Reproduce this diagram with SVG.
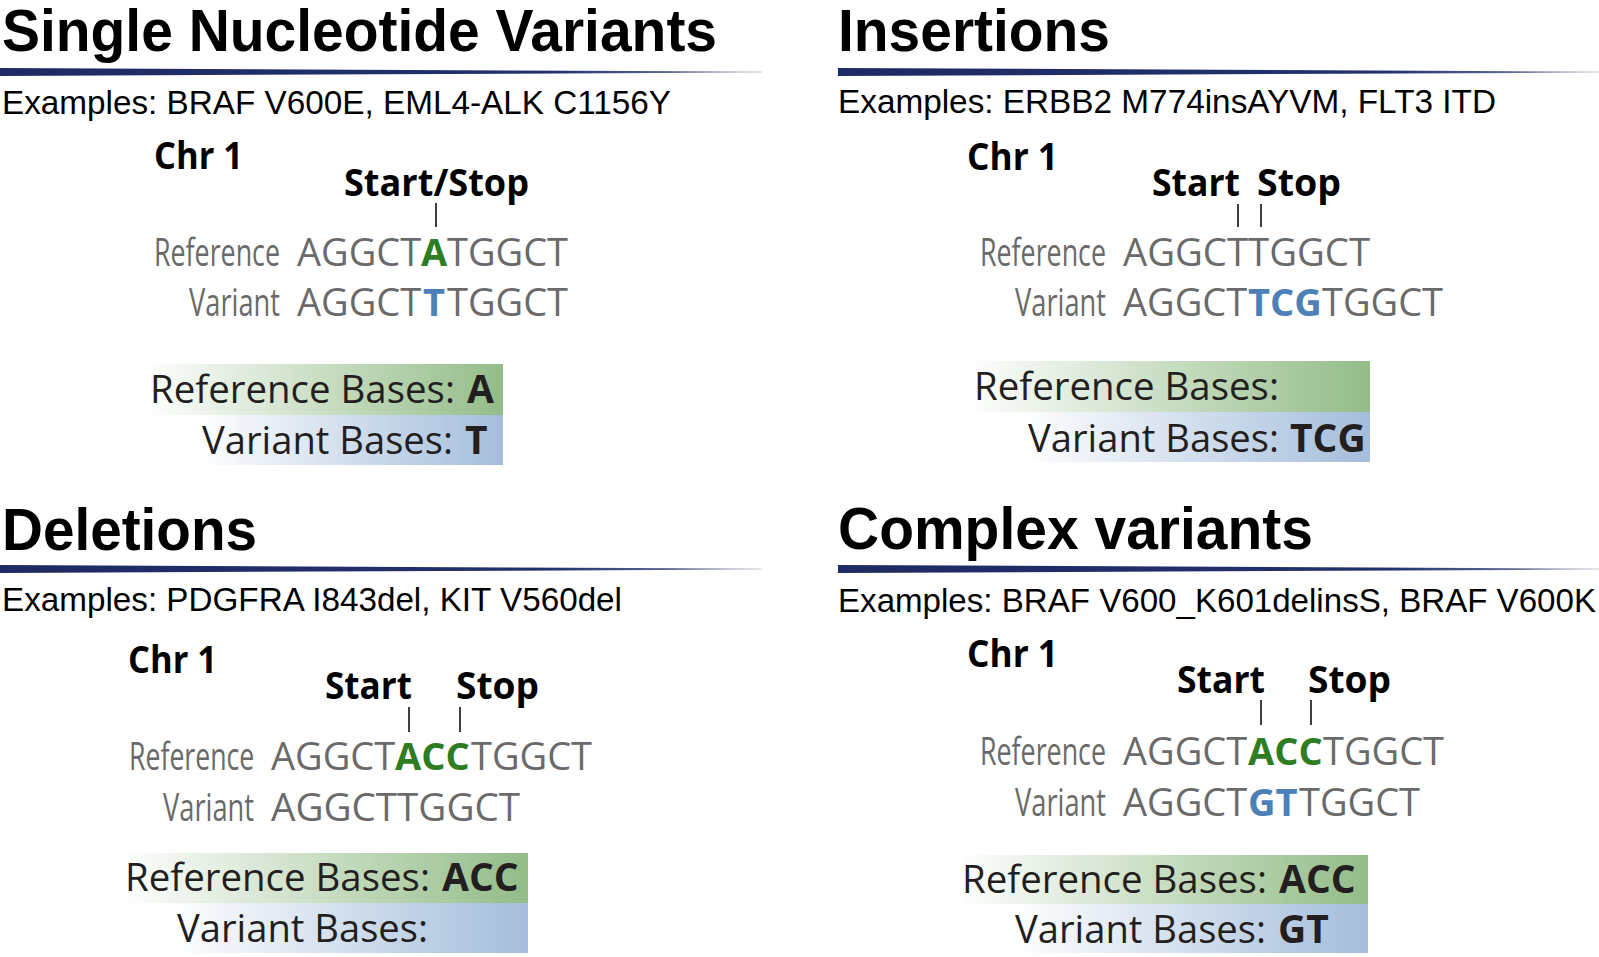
<svg xmlns="http://www.w3.org/2000/svg" width="1599" height="957" viewBox="0 0 1599 957">
<style>
.title{font-family:"Liberation Sans",Arial,sans-serif;font-weight:700;font-size:60px;fill:#000}
.ex{font-family:"Liberation Sans",Arial,sans-serif;font-size:33px;fill:#000}
.chr{font-family:"Open Sans","Noto Sans",sans-serif;font-weight:700;font-size:38px;fill:#000}
.lab{font-family:"Open Sans","Noto Sans",sans-serif;font-size:38px;fill:#6a6a6a}
.seq{font-family:"Open Sans","Noto Sans",sans-serif;font-size:38px;fill:#6a6a6a}
.base{font-family:"Open Sans","Noto Sans",sans-serif;font-size:39px;fill:#231f20}
.b{font-weight:700}
.g{fill:#2e7d23}
.bl{fill:#4b81b7}
.tick{stroke:#000;stroke-width:1.5}
.gbox{fill:url(#gGreen)}
.bbox{fill:url(#gBlue)}
</style>
<defs>
<linearGradient id="gLine" x1="0" y1="0" x2="1" y2="0">
<stop offset="0" stop-color="#1e2a64"/>
<stop offset="0.72" stop-color="#22306c"/>
<stop offset="0.88" stop-color="#5d6892"/>
<stop offset="1" stop-color="#cfd0d8"/>
</linearGradient>
<linearGradient id="gGreen" x1="0" y1="0" x2="1" y2="0">
<stop offset="0" stop-color="#ffffff"/>
<stop offset="1" stop-color="#93bc88"/>
</linearGradient>
<linearGradient id="gBlue" x1="0" y1="0" x2="1" y2="0">
<stop offset="0" stop-color="#ffffff"/>
<stop offset="1" stop-color="#a4bddb"/>
</linearGradient>
</defs>
<rect width="1599" height="957" fill="#fff"/>

<g id="snv">
<text class="title" x="2" y="51" textLength="715" lengthAdjust="spacingAndGlyphs">Single Nucleotide Variants</text>
<polygon points="0,68 762,71.6 762,72.6 0,76" fill="url(#gLine)"/>
<text class="ex" x="2" y="114" textLength="669" lengthAdjust="spacingAndGlyphs">Examples: BRAF V600E, EML4-ALK C1156Y</text>
<text class="chr" x="154" y="169" textLength="89" lengthAdjust="spacingAndGlyphs">Chr 1</text>
<text class="chr" x="344" y="196" textLength="185" lengthAdjust="spacingAndGlyphs">Start/Stop</text>
<line class="tick" x1="436" y1="203" x2="436" y2="227"/>
<text class="lab" transform="translate(154,266) scale(0.7,1)" textLength="180" lengthAdjust="spacingAndGlyphs">Reference</text>
<text class="seq" x="297" y="266">AGGCT</text>
<text class="seq b g" x="421" y="266">A</text>
<text class="seq" x="447" y="266">TGGCT</text>
<text class="lab" transform="translate(189,316) scale(0.7,1)" textLength="130" lengthAdjust="spacingAndGlyphs">Variant</text>
<text class="seq" x="297" y="316">AGGCT</text>
<text class="seq b bl" x="423" y="316">T</text>
<text class="seq" x="447" y="316">TGGCT</text>
<rect class="gbox" x="143" y="364" width="360" height="51"/>
<rect class="bbox" x="194" y="415" width="309" height="50"/>
<text class="base" x="150" y="403" textLength="305" lengthAdjust="spacingAndGlyphs">Reference Bases:</text>
<text class="base b" x="467" y="403">A</text>
<text class="base" x="202" y="454" textLength="251" lengthAdjust="spacingAndGlyphs">Variant Bases:</text>
<text class="base b" x="465" y="454">T</text>
</g>

<g id="insertions">
<text class="title" x="838" y="51" textLength="272" lengthAdjust="spacingAndGlyphs">Insertions</text>
<polygon points="838,68 1599,71.6 1599,72.6 838,76" fill="url(#gLine)"/>
<text class="ex" x="838" y="113" textLength="658" lengthAdjust="spacingAndGlyphs">Examples: ERBB2 M774insAYVM, FLT3 ITD</text>
<text class="chr" x="967" y="170" textLength="91" lengthAdjust="spacingAndGlyphs">Chr 1</text>
<text class="chr" x="1152" y="196" textLength="88" lengthAdjust="spacingAndGlyphs">Start</text>
<text class="chr" x="1257" y="196" textLength="84" lengthAdjust="spacingAndGlyphs">Stop</text>
<line class="tick" x1="1238" y1="204" x2="1238" y2="227"/>
<line class="tick" x1="1261" y1="204" x2="1261" y2="227"/>
<text class="lab" transform="translate(980,266) scale(0.7,1)" textLength="180" lengthAdjust="spacingAndGlyphs">Reference</text>
<text class="seq" x="1123" y="266" textLength="247" lengthAdjust="spacingAndGlyphs">AGGCTTGGCT</text>
<text class="lab" transform="translate(1015,316) scale(0.7,1)" textLength="130" lengthAdjust="spacingAndGlyphs">Variant</text>
<text class="seq" x="1123" y="316">AGGCT</text>
<text class="seq b bl" x="1248" y="316">TCG</text>
<text class="seq" x="1322" y="316">TGGCT</text>
<rect class="gbox" x="964" y="361" width="406" height="51"/>
<rect class="bbox" x="1020" y="412" width="350" height="50"/>
<text class="base" x="974" y="400" textLength="305" lengthAdjust="spacingAndGlyphs">Reference Bases:</text>
<text class="base" x="1028" y="452" textLength="251" lengthAdjust="spacingAndGlyphs">Variant Bases:</text>
<text class="base b" x="1290" y="452">TCG</text>
</g>

<g id="deletions">
<text class="title" x="2" y="550" textLength="255" lengthAdjust="spacingAndGlyphs">Deletions</text>
<polygon points="0,565 762,568.6 762,569.6 0,573" fill="url(#gLine)"/>
<text class="ex" x="2" y="611" textLength="620" lengthAdjust="spacingAndGlyphs">Examples: PDGFRA I843del, KIT V560del</text>
<text class="chr" x="128" y="673" textLength="89" lengthAdjust="spacingAndGlyphs">Chr 1</text>
<text class="chr" x="325" y="699" textLength="87" lengthAdjust="spacingAndGlyphs">Start</text>
<text class="chr" x="456" y="699" textLength="83" lengthAdjust="spacingAndGlyphs">Stop</text>
<line class="tick" x1="409" y1="707" x2="409" y2="732"/>
<line class="tick" x1="460" y1="707" x2="460" y2="732"/>
<text class="lab" transform="translate(129,770) scale(0.7,1)" textLength="179" lengthAdjust="spacingAndGlyphs">Reference</text>
<text class="seq" x="271" y="770">AGGCT</text>
<text class="seq b g" x="395" y="770">ACC</text>
<text class="seq" x="471" y="770">TGGCT</text>
<text class="lab" transform="translate(163,821) scale(0.7,1)" textLength="130" lengthAdjust="spacingAndGlyphs">Variant</text>
<text class="seq" x="271" y="821" textLength="249" lengthAdjust="spacingAndGlyphs">AGGCTTGGCT</text>
<rect class="gbox" x="117" y="853" width="411" height="50"/>
<rect class="bbox" x="168" y="903" width="360" height="50"/>
<text class="base" x="125" y="891" textLength="305" lengthAdjust="spacingAndGlyphs">Reference Bases:</text>
<text class="base b" x="442" y="891">ACC</text>
<text class="base" x="177" y="942" textLength="251" lengthAdjust="spacingAndGlyphs">Variant Bases:</text>
</g>

<g id="complex">
<text class="title" x="838" y="549" textLength="475" lengthAdjust="spacingAndGlyphs">Complex variants</text>
<polygon points="838,565 1599,568.6 1599,569.6 838,573" fill="url(#gLine)"/>
<text class="ex" x="838" y="612" textLength="758" lengthAdjust="spacingAndGlyphs">Examples: BRAF V600_K601delinsS, BRAF V600K</text>
<text class="chr" x="967" y="667" textLength="91" lengthAdjust="spacingAndGlyphs">Chr 1</text>
<text class="chr" x="1177" y="693" textLength="88" lengthAdjust="spacingAndGlyphs">Start</text>
<text class="chr" x="1308" y="693" textLength="83" lengthAdjust="spacingAndGlyphs">Stop</text>
<line class="tick" x1="1261" y1="700" x2="1261" y2="725"/>
<line class="tick" x1="1311" y1="700" x2="1311" y2="725"/>
<text class="lab" transform="translate(980,765) scale(0.7,1)" textLength="180" lengthAdjust="spacingAndGlyphs">Reference</text>
<text class="seq" x="1123" y="765">AGGCT</text>
<text class="seq b g" x="1248" y="765">ACC</text>
<text class="seq" x="1323" y="765">TGGCT</text>
<text class="lab" transform="translate(1015,816) scale(0.7,1)" textLength="130" lengthAdjust="spacingAndGlyphs">Variant</text>
<text class="seq" x="1123" y="816">AGGCT</text>
<text class="seq b bl" x="1248" y="816">GT</text>
<text class="seq" x="1299" y="816">TGGCT</text>
<rect class="gbox" x="954" y="855" width="414" height="49"/>
<rect class="bbox" x="1010" y="904" width="358" height="49"/>
<text class="base" x="962" y="893" textLength="305" lengthAdjust="spacingAndGlyphs">Reference Bases:</text>
<text class="base b" x="1279" y="893">ACC</text>
<text class="base" x="1015" y="943" textLength="251" lengthAdjust="spacingAndGlyphs">Variant Bases:</text>
<text class="base b" x="1278" y="943">GT</text>
</g>
</svg>
